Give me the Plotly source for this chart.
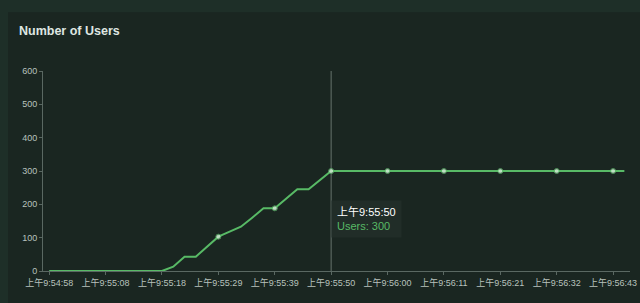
import plotly.graph_objects as go

# Data
tick_labels = ["上午9:54:58", "上午9:55:08", "上午9:55:18", "上午9:55:29", "上午9:55:39",
               "上午9:55:50", "上午9:56:00", "上午9:56:11", "上午9:56:21", "上午9:56:32",
               "上午9:56:43"]
users = [0, 0, 0, 0, 0, 0, 0, 0, 0, 0,
         0, 13, 43, 43, 73, 103, 118, 133, 160, 188,
         188, 216, 245, 245, 272, 300, 300, 300, 300, 300,
         300, 300, 300, 300, 300, 300, 300, 300, 300, 300,
         300, 300, 300, 300, 300, 300, 300, 300, 300, 300,
         300, 300]
y_ticks = [0, 100, 200, 300, 400, 500, 600]
tooltip_time = "上午9:55:50"
tooltip_value = 300
label_step = 5

x_idx = list(range(len(users)))
tick_idx = [i * label_step for i in range(len(tick_labels))]
hover_idx = tick_idx[tick_labels.index(tooltip_time)]

W, H = 640, 303
L, R, T, B = 43, 10, 71, 31.5
pw, ph = W - L - R, H - T - B

def px2paper(px, py):
    return (px - L) / pw, (H - B - py) / ph

font_axis = "Liberation Sans, Noto Sans CJK SC, sans-serif"
line_col = "#58ba66"

fig = go.Figure()
fig.add_trace(go.Scatter(
    x=x_idx, y=users, mode="lines+markers",
    line=dict(color=line_col, width=2),
    marker=dict(size=[5 if (i % label_step == 0 and v > 0) else 0 for i, v in zip(x_idx, users)],
                color="#e8f5ea", line=dict(color=line_col, width=1)),
    hoverinfo="skip", showlegend=False, cliponaxis=False,
))

shapes = []
x0, y0 = px2paper(8, 12)
x1, y1 = px2paper(W + 2, H + 2)
shapes.append(dict(type="rect", xref="paper", yref="paper", x0=x0, y0=y1, x1=x1, y1=y0,
                   fillcolor="#1a2621", line=dict(width=0), layer="below"))
shapes.append(dict(type="line", xref="x", yref="paper", x0=hover_idx, x1=hover_idx,
                   y0=0, y1=1, line=dict(color="#66736d", width=1), layer="below"))

tx, ty = px2paper(366, 219)
annotations = [
    dict(text="<b>Number of Users</b>", xref="paper", yref="paper",
         x=px2paper(17, 0)[0], y=px2paper(0, 31)[1], xanchor="left", yanchor="middle",
         showarrow=False, font=dict(family="Liberation Sans, sans-serif",
                                    size=12.5, color="#dfe6e2")),
    dict(text=f"<span style='color:#ffffff'>{tooltip_time}</span><br>"
              f"<span style='color:{line_col}'>Users: {tooltip_value}</span>",
         xref="paper", yref="paper", x=tx, y=ty, xanchor="center", yanchor="middle",
         showarrow=False, align="left", bgcolor="#212d28", borderpad=5,
         font=dict(family=font_axis, size=11, color="#ffffff")),
]

fig.update_layout(
    width=W, height=H,
    margin=dict(l=L, r=R, t=T, b=B, autoexpand=False),
    paper_bgcolor="#1e2f28", plot_bgcolor="rgba(0,0,0,0)",
    shapes=shapes, annotations=annotations,
    xaxis=dict(range=[-0.55, len(users) - 0.5], tickvals=tick_idx, ticktext=tick_labels,
               automargin=False, tickangle=0,
               showgrid=False, zeroline=False, showline=True, linecolor="#5a6862",
               ticks="outside", ticklen=3, tickcolor="#5a6862",
               tickfont=dict(family=font_axis, size=9, color="#b8c2bd")),
    yaxis=dict(range=[0, 600], tickvals=y_ticks, automargin=False,
               showgrid=False, zeroline=False, showline=True, linecolor="#5a6862",
               ticks="outside", ticklen=3, tickcolor="#5a6862",
               tickfont=dict(family=font_axis, size=9, color="#b8c2bd")),
)

fig.write_html("out.html")
